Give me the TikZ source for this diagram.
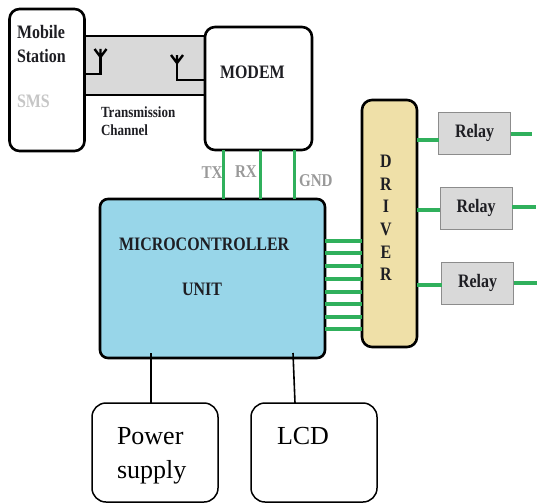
\documentclass[tikz,border=0pt]{standalone}
\usepackage{fontspec}
\setmainfont{Liberation Serif}
\newfontfamily\tallfont[FakeStretch=0.84]{Liberation Serif}
\usetikzlibrary{positioning, calc}
\definecolor{mcublue}{RGB}{152, 214, 233}
\definecolor{driversand}{RGB}{239, 224, 168}
\definecolor{linkgreen}{RGB}{48, 176, 92}
\definecolor{relaygray}{RGB}{217, 217, 217}
\definecolor{inkdark}{RGB}{30, 30, 35}
\newcommand{\relaytext}{Relay\hspace{5pt}}
\tikzset{
    block/.style = {draw=black, line width=2.6pt, fill=white, rounded corners=10pt, outer sep=0pt, inner sep=0pt, anchor=north west},
    plainbox/.style = {block, line width=1.5pt, rounded corners=14pt},
    relaybox/.style = {draw=gray!90, line width=1pt, fill=relaygray, outer sep=0pt, inner sep=0pt, minimum width=72pt, minimum height=42pt, text=inkdark, font=\tallfont\bfseries\fontsize{19}{19}\selectfont},
    channelband/.style = {fill=relaygray, outer sep=0pt, inner sep=0pt, anchor=north west, minimum width=122pt, minimum height=59pt},
    tag/.style = {anchor=base west, inner sep=0pt, outer sep=0pt, text=inkdark, font=\tallfont\bfseries\fontsize{19}{19}\selectfont},
    smalltag/.style = {tag, font=\tallfont\bfseries\fontsize{15.5}{15.5}\selectfont},
    pintag/.style = {tag, text=gray!80, font=\tallfont\bfseries\fontsize{18}{18}\selectfont},
    plaintag/.style = {anchor=base west, inner sep=0pt, outer sep=0pt, font=\fontsize{26}{26}\selectfont},
    wire/.style = {draw=black, line width=1.6pt},
    feed/.style = {draw=black, line width=2.6pt},
    link/.style = {draw=linkgreen, line width=3pt},
    buslink/.style = {link, line width=3.4pt}
}
\begin{document}
\begin{tikzpicture}[x=1pt, y=-1pt]
  \useasboundingbox (0,0) rectangle (537,503);

  \node[channelband] (channel) at (84,36) {};

  \node[block, minimum width=75pt, minimum height=142pt] (mobile) at (9.5,9) {};
  \node[block, minimum width=107pt, minimum height=123pt] (modem) at (205,27) {};
  \node[block, fill=mcublue, minimum width=225pt, minimum height=159pt, rounded corners=8pt] (mcu) at (100,199) {};
  \node[block, fill=driversand, minimum width=55pt, minimum height=247pt] (driver) at (362,100) {};

  \node[relaybox, anchor=north west] (relayA) at (438.5,112) {\relaytext};
  \node[relaybox, below=33pt of relayA, xshift=1.5pt] (relayB) {\relaytext};
  \node[relaybox, below=33pt of relayB, xshift=1.5pt] (relayC) {\relaytext};

  \node[plainbox, minimum width=126pt, minimum height=99pt] (power) at (92,403) {};
  \node[plainbox, right=33pt of power, anchor=west, minimum width=126pt, minimum height=99pt] (lcd) {};

  \draw[feed] (channel.north west) -- (channel.north east);
  \draw[feed] (channel.south west) -- (channel.south east);

  % antennas
  \coordinate (aerialA) at (100.5,57);
  \coordinate (aerialB) at (177,63);
  \draw[feed] (mobile.east |- 0,74) -| (aerialA);
  \draw[feed] (modem.west |- 0,80) -| (aerialB);
  \foreach \a in {aerialA, aerialB}
    \draw[wire, line width=2.4pt] (\a) -- ++(-6,-8) (\a) -- ++(0,-8) (\a) -- ++(6,-8);

  \foreach \x in {223, 260, 294}
    \draw[link] (modem.south -| \x,0) -- (mcu.north -| \x,0);

  \foreach \y in {241, 253, 266, 279, 292, 304, 317, 329}
    \draw[buslink] (mcu.east |- 0,\y) -- (driver.west |- 0,\y);

  \draw[buslink] (driver.east |- 0,140) -- (relayA.west |- 0,140);
  \draw[buslink] (driver.east |- 0,210) -- (relayB.west |- 0,210);
  \draw[buslink] (driver.east |- 0,285) -- (relayC.west |- 0,285);

  \coordinate (outA) at (532,134);
  \coordinate (outB) at (536,207);
  \coordinate (outC) at (537,283);
  \draw[buslink] (relayA.east |- outA) -- (outA);
  \draw[buslink] (relayB.east |- outB) -- (outB);
  \draw[buslink] (relayC.east |- outC) -- (outC);

  \coordinate (powertap) at (151,353);
  \coordinate (lcdtap) at (293,353);
  \draw[wire] (powertap) -- (powertap |- power.north);
  \draw[wire] (lcdtap) -- ($(lcd.north)+(-19,0)$);

  % labels
  \node[tag] (mobiletext) at (17,39) {Mobile};
  \node[tag] (stationtext) at (17,62) {Station};
  \node[tag, text=gray!45] (smstext) at (17,107) {SMS};
  \node[tag] (modemtext) at (220,78) {MODEM};
  \node[smalltag] (transtext) at (101,117) {Transmission};
  \node[smalltag] (chantext) at (101,135) {Channel};
  \node[pintag] (txtext) at (201.5,178) {TX};
  \node[pintag] (rxtext) at (235,177) {RX};
  \node[pintag] (gndtext) at (299,186) {GND};
  \node[tag] (mcutext) at (119,250) {MICROCONTROLLER};
  \node[tag] (unittext) at (182,295) {UNIT};
  \node[tag, anchor=center, align=center, font=\tallfont\bfseries\fontsize{19}{22.6}\selectfont] (drivertext) at (386,218) {D\\R\\I\\V\\E\\R};
  \node[plaintag] (powertext) at (117,444) {Power};
  \node[plaintag] (supplytext) at (117,478) {supply};
  \node[plaintag] (lcdtext) at (277,444) {LCD};
\end{tikzpicture}
\end{document}
